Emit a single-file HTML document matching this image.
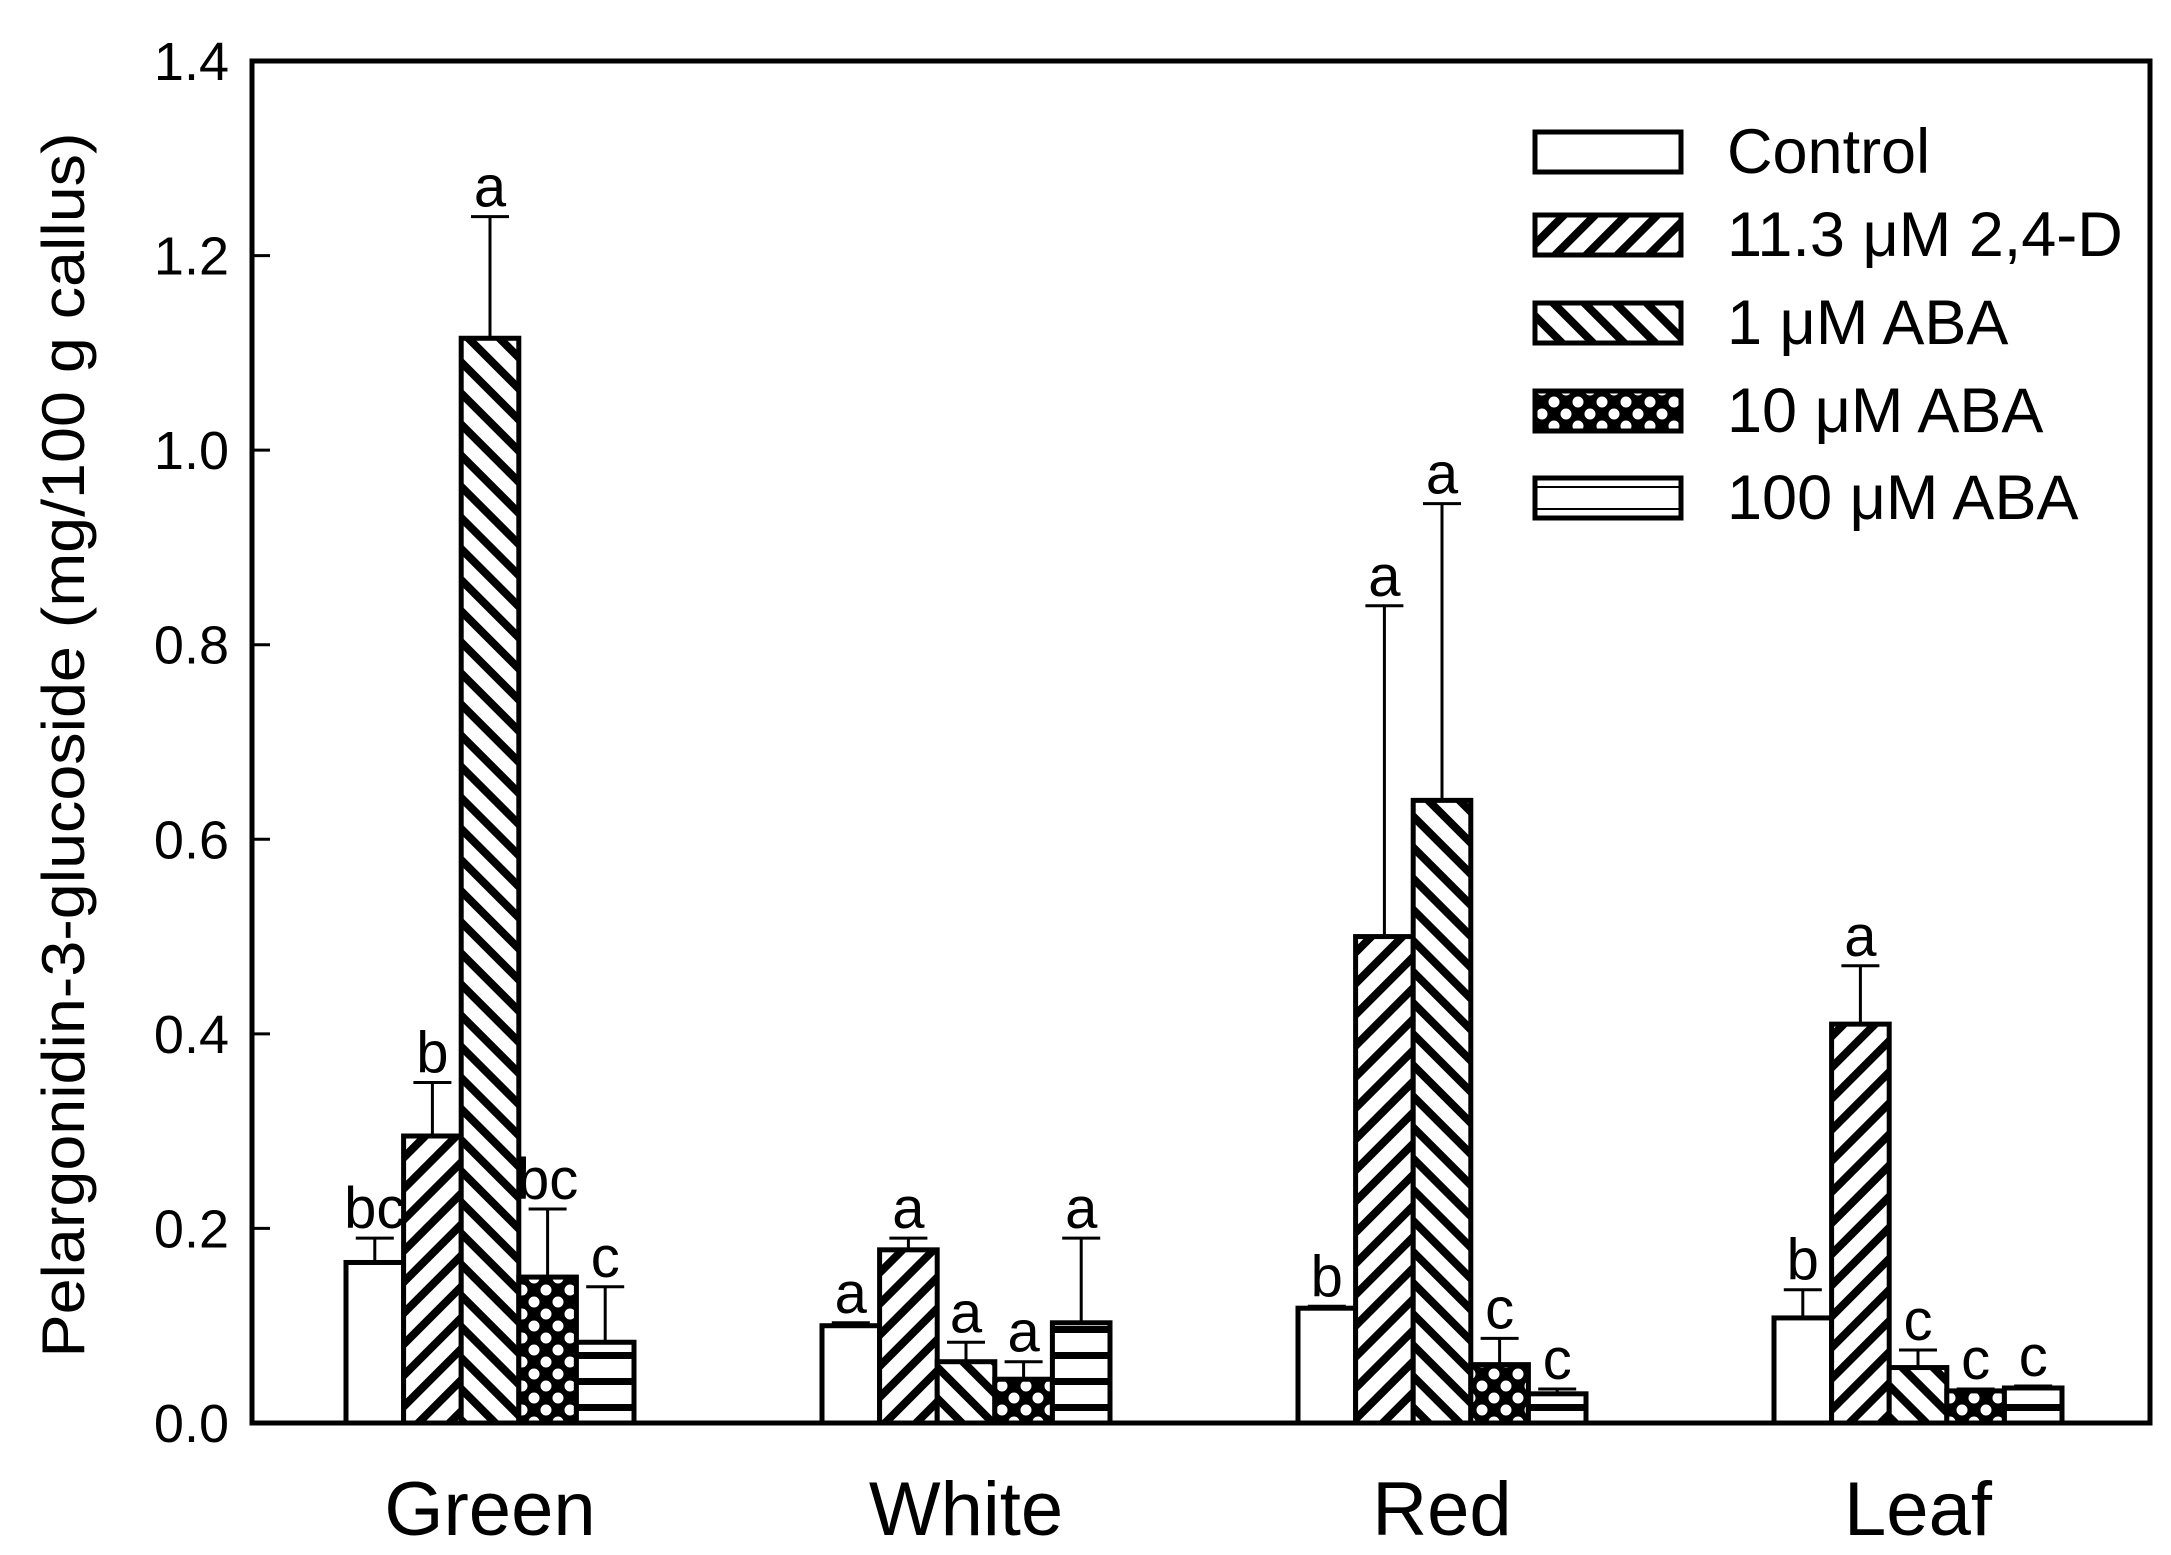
<!DOCTYPE html>
<html><head><meta charset="utf-8"><style>
html,body{margin:0;padding:0;background:#fff;}
svg{display:block;font-family:"Liberation Sans",sans-serif;}
</style></head><body>
<svg id="chart" width="2171" height="1555" viewBox="0 0 2171 1555" xmlns="http://www.w3.org/2000/svg">
<defs>
<pattern id="p1" patternUnits="userSpaceOnUse" width="22" height="22" patternTransform="rotate(45)">
<rect width="22" height="22" fill="#fff"/><rect x="0" y="0" width="8" height="22" fill="#000"/></pattern>
<pattern id="p2" patternUnits="userSpaceOnUse" width="22" height="22" patternTransform="rotate(-45)">
<rect width="22" height="22" fill="#fff"/><rect x="0" y="0" width="8" height="22" fill="#000"/></pattern>
<pattern id="p3" patternUnits="userSpaceOnUse" width="24" height="24">
<rect width="24" height="24" fill="#000"/><circle cx="6" cy="6" r="5.5" fill="#fff"/><circle cx="18" cy="18" r="5.5" fill="#fff"/></pattern>
<pattern id="p4" patternUnits="userSpaceOnUse" width="24" height="26">
<rect width="24" height="26" fill="#fff"/><rect x="0" y="0" width="24" height="7" fill="#000"/></pattern>
<pattern id="p4l" patternUnits="userSpaceOnUse" width="24" height="22" y="4">
<rect width="24" height="22" fill="#fff"/><rect x="0" y="20" width="24" height="6" fill="#000"/></pattern>
</defs>
<g id="plot"></g>
</svg>
<script>
const categories = ["Green","White","Red","Leaf"];
const seriesNames = ["Control","11.3 \u03bcM 2,4-D","1 \u03bcM ABA","10 \u03bcM ABA","100 \u03bcM ABA"];
const controlVals = [0.165,0.100,0.118,0.108];
const dVals = [0.295,0.178,0.500,0.410];
const aba1Vals = [1.115,0.063,0.640,0.057];
const aba10Vals = [0.150,0.045,0.060,0.033];
const aba100Vals = [0.083,0.103,0.030,0.036];
const controlErr = [0.190,0.103,0.120,0.137];
const dErr = [0.350,0.190,0.840,0.470];
const aba1Err = [1.240,0.083,0.945,0.075];
const aba10Err = [0.220,0.063,0.087,0.035];
const aba100Err = [0.140,0.190,0.035,0.038];
const letters = [["bc","b","a","bc","c"],["a","a","a","a","a"],["b","a","a","c","c"],["b","a","c","c","c"]];
const yTicks = [0,0.2,0.4,0.6,0.8,1.0,1.2,1.4];
const yTickLabels = ["0.0","0.2","0.4","0.6","0.8","1.0","1.2","1.4"];

const values = [controlVals,dVals,aba1Vals,aba10Vals,aba100Vals];
const errs = [controlErr,dErr,aba1Err,aba10Err,aba100Err];
const fills = ["#fff","url(#p1)","url(#p2)","url(#p3)","url(#p4)"];
const L=252,R=2150,T=61,B=1423;
const y = v => B - (v/1.4)*(B-T);
const groupCenter = i => 490 + i*476;
const barW = 57.6;
const x = (i,s) => groupCenter(i) - 2.5*barW + s*barW;
const NS="http://www.w3.org/2000/svg";
const g=document.getElementById('plot');
function mk(tag,attrs,parent){const e=document.createElementNS(NS,tag);for(const k in attrs)e.setAttribute(k,attrs[k]);(parent||g).appendChild(e);return e;}

for(let s=0;s<5;s++){
  for(let i=0;i<4;i++){
    const v=values[s][i], e=errs[s][i];
    const cx=x(i,s)+barW/2;
    const eb=mk('g',{});
    
    
    mk('line',{x1:cx,x2:cx,y1:y(v),y2:y(e),stroke:'#000','stroke-width':3},eb);
    mk('line',{x1:cx-19,x2:cx+19,y1:y(e),y2:y(e),stroke:'#000','stroke-width':3},eb);
    const r=mk('rect',{x:x(i,s),y:y(v),width:barW,height:B-y(v),fill:fills[s],stroke:'#000','stroke-width':5});
    
    
    const t=mk('text',{x:cx,y:y(e)-10,'font-size':58,'text-anchor':'middle',fill:'#000'});
    t.textContent=letters[i][s];
    
    
  }
}
const fr=mk('rect',{x:L,y:T,width:R-L,height:B-T,fill:'none',stroke:'#000','stroke-width':5});


yTicks.forEach((v,k)=>{
  mk('line',{x1:L,x2:L+18,y1:y(v),y2:y(v),stroke:'#000','stroke-width':3});
  const t=mk('text',{x:229,y:y(v)+19,'font-size':54,'text-anchor':'end',fill:'#000'});
  t.textContent=yTickLabels[k];
  
  
});
categories.forEach((c,i)=>{
  const t=mk('text',{x:groupCenter(i),y:1535,'font-size':76,'text-anchor':'middle',fill:'#000'});
  t.textContent=c;
  
  
});
const yt=mk('text',{x:0,y:0,'font-size':60,'text-anchor':'middle',fill:'#000',textLength:1225,lengthAdjust:'spacingAndGlyphs',transform:'translate(84,745) rotate(-90)'});
yt.textContent='Pelargonidin-3-glucoside (mg/100 g callus)';


const legFills=["#fff","url(#p1)","url(#p2)","url(#p3)","url(#p4l)"];
const legY=[130,213,301,389,476];
seriesNames.forEach((n,s)=>{
  const lg=mk('g',{});
  
  
  mk('rect',{x:1535,y:legY[s]+2,width:146,height:40,fill:legFills[s],stroke:'#000','stroke-width':5},lg);
  const t=mk('text',{x:1727,y:legY[s]+43,'font-size':63,fill:'#000'},lg);
  t.textContent=n;
});
</script>
</body></html>
